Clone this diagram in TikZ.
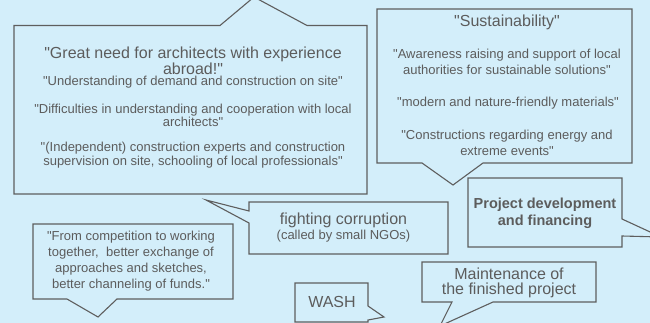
\documentclass[tikz,border=0pt]{standalone}
\usepackage{fontspec}
\setmainfont[Ligatures=TeXOff]{Liberation Sans}
\definecolor{bgc}{HTML}{D3EEFA}
\definecolor{linec}{HTML}{5E5E5E}
\definecolor{txtc}{HTML}{5C5C5C}
\tikzset{
  callout/.style={draw=linec, fill=bgc, line width=1.1pt, line join=miter},
  txt/.style={text=txtc, align=center, inner sep=0pt, anchor=center},
  big/.style={txt, font=\fontsize{16}{14}\selectfont},
  small/.style={txt, font=\fontsize{13}{16}\selectfont},
}
\begin{document}
\begin{tikzpicture}[x=1pt, y=-1pt]
\useasboundingbox (0,0) rectangle (650,323);
\clip (0,0) rectangle (650,323);
\fill[bgc] (0,0) rectangle (650,323);

% Box A
\draw[callout] (14,25.5) -- (220,25.5) -- (254,-3) -- (307,25.5) -- (367,25.5) -- (367,194) -- (14,194) -- cycle;
\node[big] (a1) at (193,60.5) {"Great need for architects with experience\\abroad!"};
\node[small] (a2) at (193,82.5) {"Understanding of demand and construction on site"};
\node[small, font=\fontsize{13}{13.5}\selectfont] (a3) at (193,115.5) {"Difficulties in understanding and cooperation with local\\architects"};
\node[small, font=\fontsize{13}{14}\selectfont] (a4) at (193,155) {"(Independent) construction experts and construction\\supervision on site, schooling of local professionals"};

% Box B
\draw[callout] (377,9) -- (632,9) -- (632,163) -- (483,163) -- (453,185) -- (422,163) -- (377,163) -- cycle;
\node[big] (b1) at (507,22) {"Sustainability"};
\node[small] (b2) at (507,62) {"Awareness raising and support of local\\authorities for sustainable solutions"};
\node[small] (b3) at (508,103) {"modern and nature-friendly materials"};
\node[small] (b4) at (507,143) {"Constructions regarding energy and\\extreme events"};

% Box C
\draw[callout] (249,202) -- (448,202) -- (448,254) -- (249,254) -- (249,223) -- (206,200) -- (249,211) -- cycle;
\node[big] (c1) at (343.5,220) {fighting corruption};
\node[small] (c2) at (343.5,236) {(called by small NGOs)};

% Box D
\draw[callout] (33,224) -- (233,224) -- (233,299) -- (117,299) -- (98,317) -- (67,299) -- (33,299) -- cycle;
\node[small] (d1) at (131,261) {"From competition to working\\together, \ better exchange of\\approaches and sketches,\\better channeling of funds."};

% Box E
\draw[callout] (295,283) -- (368,283) -- (368,306) -- (384,317) -- (368,320) -- (368,322) -- (295,322) -- cycle;
\node[big] (e1) at (332,302) {WASH};

% Box F
\draw[callout] (468,178) -- (622,178) -- (622,219) -- (661,237) -- (622,236) -- (622,247) -- (468,247) -- cycle;
\node[txt, font=\fontsize{14.5}{17}\selectfont\bfseries] (f1) at (545,213.5) {Project development\\and financing};

% Box G
\draw[callout] (422,262) -- (596,262) -- (596,302) -- (493,302) -- (440,326) -- (452,302) -- (422,302) -- cycle;
\node[big, font=\fontsize{16}{15}\selectfont] (g1) at (509,282.5) {Maintenance of\\the finished project};
\end{tikzpicture}
\end{document}
